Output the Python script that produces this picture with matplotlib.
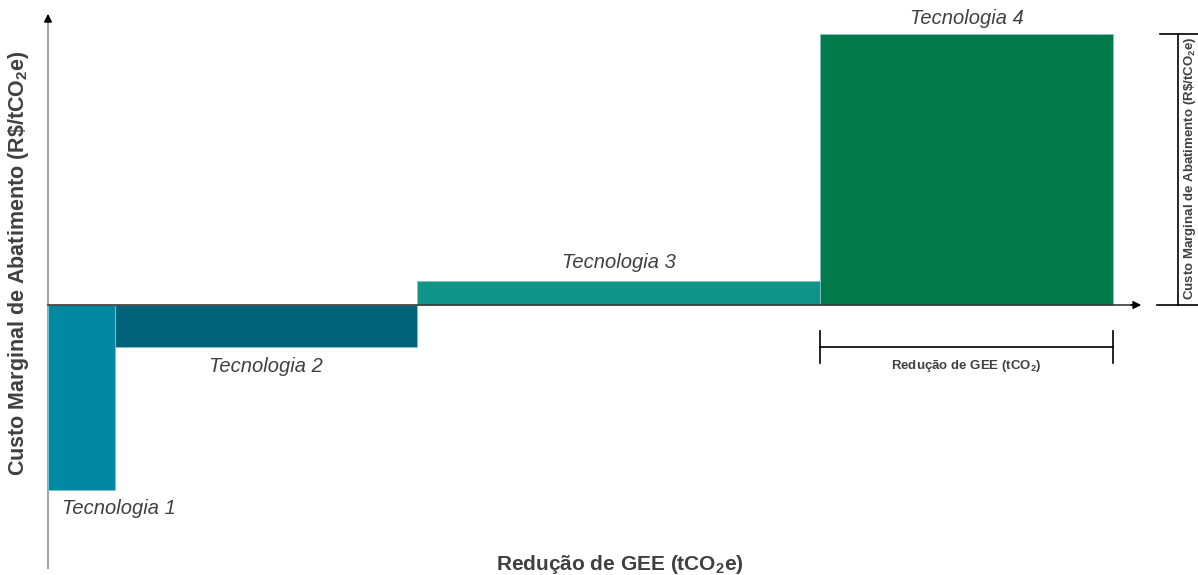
import matplotlib.pyplot as plt
import numpy as np

plt.rcParams['font.family'] = ['Liberation Sans', 'DejaVu Sans']
plt.rcParams['mathtext.fontset'] = 'custom'
plt.rcParams['mathtext.rm'] = 'Liberation Sans'
plt.rcParams['mathtext.bf'] = 'Liberation Sans:bold'

# data (abatement amount = width, marginal cost = height)
techs = ['Tecnologia 1', 'Tecnologia 2', 'Tecnologia 3', 'Tecnologia 4']
reducao = [67, 302, 403, 293]
custo = [-185, -42, 24, 271]
cores = ['#0089A0', '#00637A', '#119488', '#00794B']

left = np.concatenate([[0], np.cumsum(reducao)[:-1]])
centro = left + np.array(reducao) / 2

fig = plt.figure(figsize=(11.98, 5.75), dpi=100)
ax = fig.add_axes([0, 0, 1, 1])
ax.set_xlim(-48, 1150)
ax.set_ylim(-270, 305)
ax.axis('off')

ax.bar(left, custo, width=reducao, align='edge', color=cores,
       edgecolor='#7fc4cf', linewidth=0.6, zorder=2)

txt = '#404040'
# technology labels
offs = [(37, -18), (0, -19), (0, 19), (0, 15)]
for i, t in enumerate(techs):
    y = custo[i] + offs[i][1]
    ax.text(centro[i] + offs[i][0], y, t, style='italic', fontsize=14.5,
            color=txt, ha='center', va='center')

# axes lines with arrows
ax.plot([0, 0], [-263, 285], color='#a6a6a6', lw=1.5, zorder=1)
ax.annotate('', xy=(0, 294), xytext=(0, 280),
            arrowprops=dict(arrowstyle='-|>', color='black', lw=1, mutation_scale=12))
ax.plot([0, 1085], [0, 0], color='#3a3a3a', lw=1.2, zorder=3)
ax.annotate('', xy=(1096, 0), xytext=(1080, 0),
            arrowprops=dict(arrowstyle='-|>', color='black', lw=1, mutation_scale=12))

ax.text(-29, 42, r'Custo Marginal de Abatimento (R\$/tCO$_\mathbf{2}$e)', rotation=90,
        fontsize=15.5, fontweight='bold', color=txt, ha='center', va='center')
ax.text(572, -259, r'Redução de GEE (tCO$_\mathbf{2}$e)', fontsize=15,
        fontweight='bold', color=txt, ha='center', va='center')

# width bracket under last bar
x0, x1 = left[3], left[3] + reducao[3]
ax.plot([x0, x1], [-42, -42], color='black', lw=1.2)
ax.plot([x0, x0], [-26, -58], color='black', lw=1.2)
ax.plot([x1, x1], [-26, -58], color='black', lw=1.2)
ax.text((x0 + x1) / 2, -61, r'Redução de GEE (tCO$_\mathbf{2}$)', fontsize=9.5,
        fontweight='bold', color=txt, ha='center', va='center')

# height bracket right of last bar
ax.plot([1130, 1130], [0, custo[3]], color='black', lw=1.2)
ax.plot([1112, 1152], [custo[3], custo[3]], color='black', lw=1.2)
ax.plot([1109, 1152], [0, 0], color='black', lw=1.2)
ax.text(1142, 137, r'Custo Marginal de Abatimento (R\$/tCO$_\mathbf{2}$e)', rotation=90,
        fontsize=9.5, fontweight='bold', color=txt, ha='center', va='center')

fig.savefig('out.png', dpi=100)
